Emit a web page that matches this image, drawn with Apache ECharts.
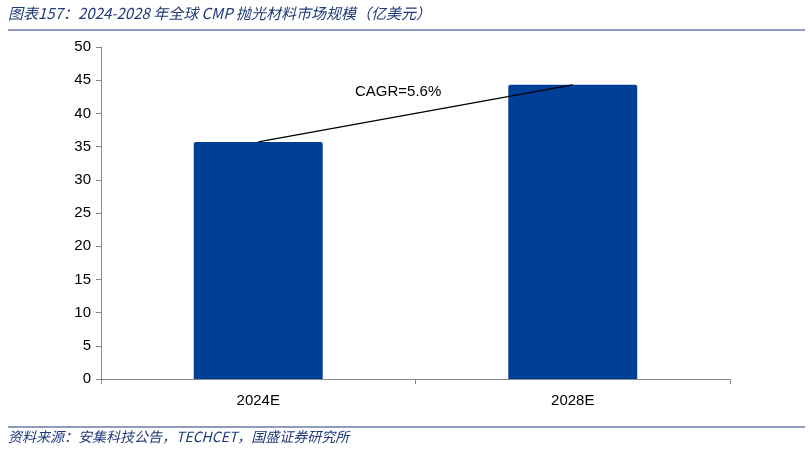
<!DOCTYPE html>
<html><head><meta charset="utf-8">
<script src="https://cdn.jsdelivr.net/npm/echarts@6/dist/echarts.min.js"></script>
<style>body{margin:0}#c{width:810px;height:452px}</style></head>
<body><div id="c"></div>
<script>
const categories = ['2024E', '2028E'];
const values = [35.7, 44.3];
const yTicks = [0, 50, 5];
const chart = echarts.init(document.getElementById('c'));
chart.setOption({
  animation: false,
  graphic: [
    {type:'text', left:8, top:6, style:{text:'图表157：2024-2028 年全球 CMP 抛光材料市场规模（亿美元）', font:'italic 15px "Noto Sans CJK SC"', fill:'#1f3a7a'}},
    {type:'line', shape:{x1:8,y1:30,x2:805,y2:30}, style:{stroke:'#1f3a7a', lineWidth:1}},
    {type:'line', shape:{x1:8,y1:427,x2:805,y2:427}, style:{stroke:'#1f3a7a', lineWidth:1}},
    {type:'text', left:8, top:430, style:{text:'资料来源：安集科技公告，TECHCET，国盛证券研究所', font:'italic 14px "Noto Sans CJK SC"', fill:'#1f3a7a'}},
    {type:'text', left:355, top:84, style:{text:'CAGR=5.6%', font:'15px "Liberation Sans"', fill:'#000'}}
  ],
  grid: {left:101, right:80, top:47, bottom:73},
  xAxis: {type:'category', data:categories,
    axisLine:{lineStyle:{color:'#888'}}, axisTick:{show:true, lineStyle:{color:'#888'}},
    axisLabel:{color:'#000', fontSize:15, fontFamily:'Liberation Sans', margin:14}},
  yAxis: {type:'value', min:yTicks[0], max:yTicks[1], interval:yTicks[2],
    axisLine:{show:true, lineStyle:{color:'#888'}}, axisTick:{show:true, inside:false, lineStyle:{color:'#888'}},
    splitLine:{show:false}, axisLabel:{color:'#000', fontSize:15, fontFamily:'Liberation Sans', margin:10}},
  series: [{type:'bar', data:values, barWidth:'41%', itemStyle:{color:'#003f98', borderRadius:[2,2,0,0]},
    markLine:{symbol:'none', silent:true, label:{show:false},
      lineStyle:{color:'#000', width:1.3, type:'solid'},
      data:[[{coord:[0, values[0]]},{coord:[1, values[1]]}]]}}]
});
</script></body></html>
